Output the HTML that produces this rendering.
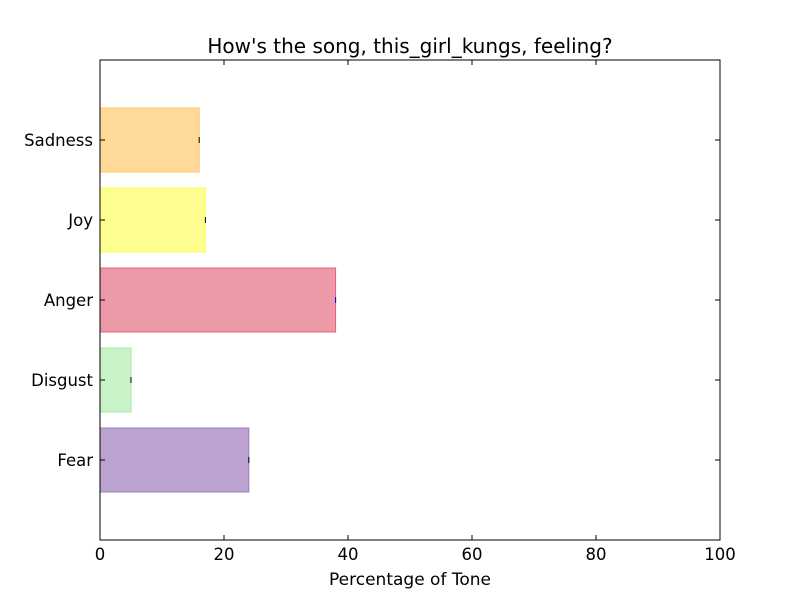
<!DOCTYPE html>
<html><head><meta charset="utf-8"><style>
body{margin:0;background:#fff;}
svg text{font-family:"DejaVu Sans","Liberation Sans",sans-serif;fill:#000;}
</style></head><body>
<svg id="chart" width="800" height="600">
<rect width="800" height="600" fill="#fff"/>
<text x="410" y="53" font-size="20" text-anchor="middle">How's the song, this_girl_kungs, feeling?</text>
<g id="plot"></g>
<rect x="100" y="60" width="620" height="480" fill="none" stroke="#000" stroke-width="1"/>
<text x="410" y="585" font-size="17" text-anchor="middle">Percentage of Tone</text>
</svg>
<script>
const categories = ["Fear","Disgust","Anger","Joy","Sadness"];
const values = [24, 5, 38, 17, 16];
const fills = ["#bba2d0","#c9f2c9","#ec9aa8","#ffff91","#fed998"];
const edges = ["#a07cc0","#a5e8a5","#e8607a","#ffff55","#fdc86a"];
const xTicks = [0,20,40,60,80,100];
const X0=100,X1=720,Y0=60,Y1=540;
const xs = v => X0 + (v-0)/(100-0)*(X1-X0);
const ys = i => Y1 - (i+1)/6*(Y1-Y0);
const NS="http://www.w3.org/2000/svg";
const g=document.getElementById('plot');
function mk(t,a){const e=document.createElementNS(NS,t);for(const k in a)e.setAttribute(k,a[k]);g.appendChild(e);return e;}
const bh=0.8*(Y1-Y0)/6;
categories.forEach((c,i)=>{
  const y=ys(i);
  const r=mk('rect',{x:xs(0),y:y-bh/2,width:xs(values[i])-xs(0),height:bh,fill:fills[i],stroke:edges[i],'stroke-width':1});
  
  
  const eb=mk('line',{x1:xs(values[i]),x2:xs(values[i]),y1:y-3,y2:y+3,stroke:i==2?'#00f':'#000','stroke-width':1});
  
  
  const t=mk('text',{x:X0-7,y:y+6,'font-size':16.5,'text-anchor':'end'});
  t.textContent=c;
  
  
  mk('line',{x1:X0,x2:X0+5,y1:y,y2:y,stroke:'#000'});
  mk('line',{x1:X1-5,x2:X1,y1:y,y2:y,stroke:'#000'});
});
xTicks.forEach(v=>{
  const x=xs(v);
  mk('line',{x1:x,x2:x,y1:Y1,y2:Y1-5,stroke:'#000'});
  mk('line',{x1:x,x2:x,y1:Y0,y2:Y0+5,stroke:'#000'});
  const t=mk('text',{x:x,y:Y1+20,'font-size':16.5,'text-anchor':'middle'});
  t.textContent=v;
  
  
});
</script>
</body></html>
